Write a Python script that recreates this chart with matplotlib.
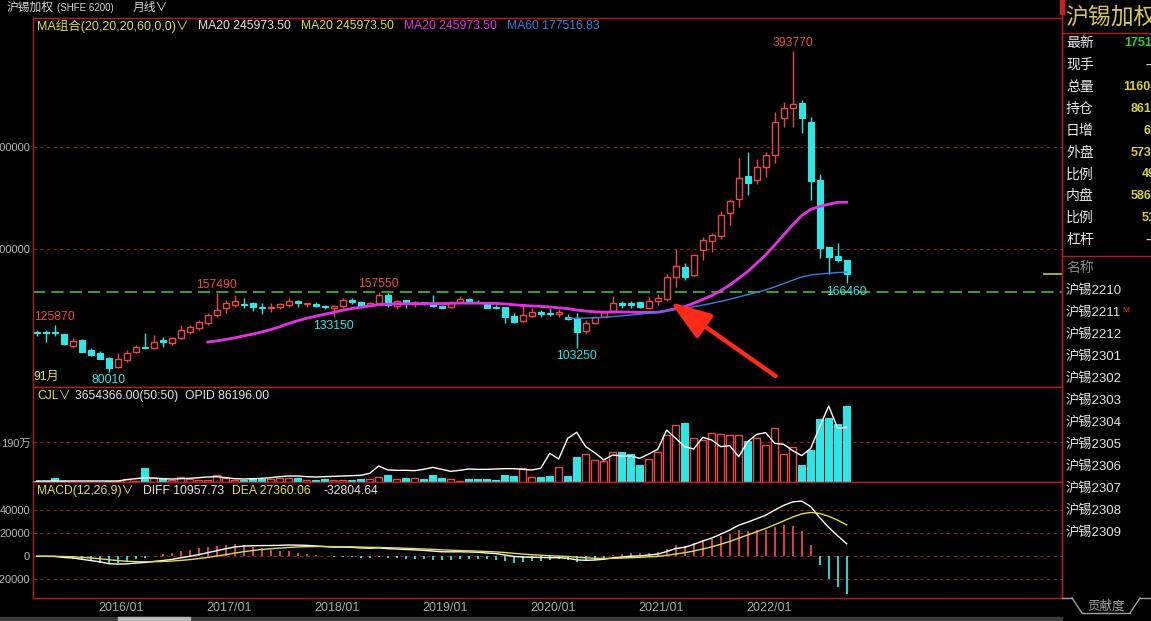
import matplotlib
matplotlib.use('Agg')
import matplotlib.pyplot as plt
import numpy as np
import pandas as pd
from matplotlib.lines import Line2D
from matplotlib.patches import Rectangle

plt.rcParams['font.family'] = ['Liberation Sans', 'Noto Sans CJK SC', 'DejaVu Sans']

# ---------------- data ----------------
months = pd.period_range('2015-03', periods=91, freq='M')
opens = [119200, 118600, 118500, 116900, 105500, 111100, 101300, 98000, 93100, 84300,
         91500, 99300, 104500, 102900, 111100, 107800, 112700, 119200, 122500, 127400,
         135500, 142000, 145300, 146300, 146900, 143700, 142000, 143000, 145300, 149500,
         145900, 146300, 144300, 142000, 144300, 150200, 148600, 145300, 146900, 155100,
         144200, 150000, 146900, 147900, 146000, 144700, 143000, 148600, 151200, 148600,
         146000, 143700, 143000, 134500, 130000, 134900, 138100, 137800, 136200, 133900,
         132300, 120200, 127400, 133900, 139800, 146900, 146900, 147900, 142000, 149500,
         150900, 173000, 182800, 174700, 199100, 208300, 212800, 235000, 248700, 271500,
         267600, 280700, 292100, 327900, 337700, 342600, 324000, 267300, 202100, 193300,
         189000]
highs = [120800, 120800, 125870, 117000, 112700, 112000, 102900, 100600, 94100, 98000,
         101300, 106200, 118200, 115900, 114300, 113700, 125700, 125700, 130600, 137800,
         157490, 150200, 155100, 151800, 148600, 146900, 146900, 146900, 151800, 150200,
         147600, 148600, 145300, 145300, 151800, 151800, 149500, 148600, 157550, 156700,
         150000, 150200, 149500, 148600, 155000, 145300, 149200, 154100, 151800, 150200,
         146900, 145300, 143700, 137200, 145300, 142000, 140400, 142000, 141400, 136500,
         137200, 130600, 134900, 139800, 154100, 149500, 149500, 148600, 153500, 156000,
         175600, 199800, 186100, 195200, 211500, 215400, 237300, 249000, 288800, 294700,
         287800, 295300, 334500, 344200, 393770, 345900, 328900, 273500, 202100, 205600,
         189000]
lows = [115000, 109400, 115000, 106200, 102900, 99000, 95400, 92150, 80010, 83300,
        89900, 98000, 102300, 102300, 103900, 106200, 111700, 116900, 120800, 125700,
        133900, 137800, 143000, 142000, 139800, 136500, 138800, 141100, 143700, 143000,
        143000, 143000, 141100, 133150, 142000, 146300, 142000, 143700, 146300, 143700,
        141100, 142000, 143700, 145300, 143700, 142000, 142000, 146900, 146900, 146900,
        142000, 141400, 128000, 127400, 129000, 133900, 133200, 134500, 133900, 130600,
        103250, 116600, 126400, 133200, 138800, 142000, 142700, 142000, 141100, 145300,
        149500, 162600, 169800, 173700, 189300, 196800, 209600, 223600, 240900, 252900,
        263400, 270900, 283900, 319100, 319800, 313900, 248000, 191000, 175600, 187700,
        166460]
closes = [118300, 117900, 117600, 106800, 110100, 99650, 96700, 92800, 84000, 92800,
          98700, 104500, 102900, 108800, 108800, 112700, 120800, 123500, 128300, 135500,
          140400, 146900, 149200, 145300, 143000, 142700, 143700, 146300, 149500, 146900,
          146900, 144300, 143000, 144300, 150200, 148200, 144700, 147600, 155100, 145300,
          148900, 146900, 147900, 146900, 144300, 142700, 148600, 150900, 148600, 147600,
          142700, 142400, 133900, 128300, 135500, 138800, 136500, 136200, 138100, 131300,
          119200, 127400, 133900, 138800, 146900, 145300, 145300, 143000, 149500, 151800,
          173000, 183800, 173000, 194200, 208900, 213500, 233400, 247100, 269200, 264300,
          280700, 292400, 324700, 337700, 342000, 327900, 267000, 200800, 192600, 189300,
          175300]
volumes = [30000, 30000, 176000, 30000, 20000, 20000, 20000, 20000, 30000, 40000,
           128000, 50000, 657000, 208000, 208000, 80000, 240000, 144000, 80000, 80000,
           353000, 176000, 80000, 112000, 160000, 160000, 144000, 176000, 176000, 176000,
           112000, 96000, 128000, 112000, 112000, 80000, 128000, 128000, 256000, 320000,
           160000, 176000, 176000, 128000, 353000, 176000, 160000, 64000, 160000, 128000,
           128000, 80000, 353000, 270000, 657000, 224000, 240000, 288000, 705000, 288000,
           1202000, 1330000, 1058000, 994000, 1442000, 1442000, 1346000, 817000, 1106000, 1442000,
           2260000, 2740000, 2853000, 2100000, 2020000, 2356000, 2308000, 2260000, 2260000, 1971000,
           2100000, 1779000, 2580000, 1346000, 1699000, 817000, 1538000, 3029000, 3077000, 2788000,
           3654366]
open_interest = [1580, 1580, 1580, 1580, 1580, 1580, 1580, 1580, 1580, 1580,
                 3690, 5270, 6850, 6320, 5270, 4740, 5270, 5790, 6850, 7900,
                 8430, 6850, 5270, 4740, 5270, 5790, 6850, 8430, 9480, 9480,
                 8430, 7900, 8430, 8950, 9480, 10010, 10530, 13690, 25280, 18960,
                 18430, 18430, 17910, 20010, 23170, 20010, 16850, 18430, 20540, 20010,
                 20010, 20540, 21070, 21070, 20010, 18960, 21590, 45290, 36340, 68990,
                 78470, 55830, 46350, 34760, 42660, 41080, 41080, 37390, 44240, 51610,
                 82160, 68990, 55830, 52140, 70570, 66360, 55830, 57410, 40030, 63730,
                 75310, 77950, 61090, 59510, 49510, 41610, 53190, 87430, 120080, 84790,
                 86196]
guide_level = 158000
price_ticks = [200000, 300000]
price_tick_labels = ['200000', '300000']
vol_ticks = [1900000]
vol_tick_labels = ['190万']
macd_ticks = [-20000, 0, 20000, 40000]
macd_tick_labels = ['-20000', '0', '20000', '40000']
marks_high = [(2, '125870'), (20, '157490'), (38, '157550'), (84, '393770')]
marks_low = [(8, '80010'), (33, '133150'), (60, '103250'), (90, '166460')]
side_labels = ['最新', '现手', '总量', '持仓', '日增', '外盘', '比例', '内盘', '比例', '杠杆']
side_values = ['175110', '--', '1160436', '86196', '612', '57318', '49%', '58698', '51%', '--']
contracts = ['沪锡2210', '沪锡2211', '沪锡2212', '沪锡2301', '沪锡2302', '沪锡2303',
             '沪锡2304', '沪锡2305', '沪锡2306', '沪锡2307', '沪锡2308', '沪锡2309']

# ---------------- derived ----------------
o = np.array(opens, float); h = np.array(highs, float)
l = np.array(lows, float); c = np.array(closes, float)
idx = np.arange(len(c))
cs = pd.Series(c)
ma20 = cs.rolling(20).mean()
ma60 = cs.rolling(60).mean()
ema12 = cs.ewm(span=12, adjust=False).mean()
ema26 = cs.ewm(span=26, adjust=False).mean()
diff = ema12 - ema26
dea = diff.ewm(span=9, adjust=False).mean()
hist = 2 * (diff - dea)

# ---------------- style ----------------
W, H = 1151, 621
RED = '#ec4a44'
CYAN = '#2ee6e6'
BORDER = '#b3201c'
GRID = '#8a2020'
GRAY = '#b8b8b8'
YEL = '#dede50'
MAG = '#e62ee6'
BLUE = '#3a7fe0'
FS = 8.7

fig = plt.figure(figsize=(W / 100, H / 100), dpi=100)
fig.patch.set_facecolor('black')


def box(x0, y0, x1, y1):
    return [x0 / W, 1 - y1 / H, (x1 - x0) / W, (y1 - y0) / H]


def T(x, y, s, color, size, **kw):
    kw.setdefault('va', 'center')
    return fig.text(x / W, 1 - y / H, s, color=color, fontsize=size, **kw)


x_left = (33 - 36.7) / 9.0
x_right = (1062 - 36.7) / 9.0

ax = fig.add_axes(box(33, 18, 1062, 387))
axv = fig.add_axes(box(33, 387, 1062, 482))
axm = fig.add_axes(box(33, 482, 1062, 598))
for a in (ax, axv, axm):
    a.set_facecolor('black')
    for s in a.spines.values():
        s.set_color(BORDER)
        s.set_linewidth(1)
    a.set_xlim(x_left, x_right)
    a.tick_params(axis='x', length=0, labelbottom=False)
    a.tick_params(axis='y', length=0, colors=GRAY, labelsize=8, pad=2)
    a.grid(axis='y', color=GRID, linestyle=(0, (3, 3)), linewidth=0.8)
    a.set_axisbelow(True)

# ---- main price panel ----
ax.set_ylim(65078, 426108)
ax.set_yticks(price_ticks)
ax.set_yticklabels(price_tick_labels)
up = c >= o
wick_colors = [RED if u else CYAN for u in up]
ax.vlines(idx, l, h, colors=wick_colors, linewidth=1, zorder=2)
ax.bar(idx[up], np.maximum(c[up] - o[up], 300), bottom=o[up], width=0.68,
       facecolor='black', edgecolor=RED, linewidth=1, zorder=3)
ax.bar(idx[~up], np.maximum(o[~up] - c[~up], 300), bottom=c[~up], width=0.68,
       facecolor=CYAN, edgecolor=CYAN, linewidth=0.8, zorder=3)
ax.axhline(guide_level, color='#3cd23c', linestyle=(0, (8, 4)), linewidth=1.1, zorder=1)
ax.plot(idx, ma20, color='white', linewidth=1, zorder=4)
ax.plot(idx, ma20, color=YEL, linewidth=1, zorder=4)
ax.plot(idx, ma20, color=MAG, linewidth=2, zorder=5)
ax.plot(idx, ma60, color=BLUE, linewidth=1, zorder=5)
ax.plot([x_right - 2.0, x_right], [c[-1], c[-1]], color='#c8c832', linewidth=1.2, zorder=5,
        clip_on=False)
for i, s in marks_high:
    ax.annotate(s, xy=(i, h[i]), xytext=(0, 8), textcoords='offset pixels', ha='center',
                va='center', color=RED, fontsize=8.8, zorder=6)
for i, s in marks_low:
    ax.annotate(s, xy=(i, l[i]), xytext=(0, -8.5), textcoords='offset pixels', ha='center',
                va='center', color=CYAN, fontsize=8.8, zorder=6)
ax.annotate('', xy=(70.4, 148200), xytext=(82.1, 75800),
            arrowprops=dict(arrowstyle='-|>,head_length=1.0,head_width=0.35',
                            color='#ff2a18', lw=3.2, mutation_scale=25, shrinkA=0, shrinkB=0),
            zorder=7)

# ---- volume panel ----
axv.set_ylim(0, 4.567e6)
axv.set_yticks(vol_ticks)
axv.set_yticklabels(vol_tick_labels)
axv.bar(idx[up], np.array(volumes)[up], width=0.72, facecolor='black', edgecolor=RED,
        linewidth=1, zorder=3)
axv.bar(idx[~up], np.array(volumes)[~up], width=0.72, facecolor=CYAN, edgecolor=CYAN,
        linewidth=0.8, zorder=3)
axo = axv.twinx()
axo.set_ylim(0, 150100)
axo.set_xlim(x_left, x_right)
axo.plot(idx, open_interest, color='white', linewidth=1, zorder=4)
axo.axis('off')

# ---- MACD panel ----
axm.set_ylim(-36261, 64609)
axm.set_yticks(macd_ticks)
axm.set_yticklabels(macd_tick_labels)
hist_colors = [RED if v >= 0 else CYAN for v in hist]
axm.vlines(idx, 0, hist, colors=hist_colors, linewidth=1.3, zorder=3)
axm.plot(idx, diff, color='white', linewidth=1, zorder=4)
axm.plot(idx, dea, color=YEL, linewidth=1, zorder=4)
jan = [i for i, m in enumerate(months) if m.month == 1]
axm.set_xticks([i - 0.6 for i in jan])
axm.set_xticklabels([f'{months[i].year}/01' for i in jan])
axm.tick_params(axis='x', labelbottom=True, labelsize=9, colors='#a8a8a8', pad=3)

# ---- header texts ----
T(7, 8, '沪锡加权', '#d8d8d8', 8.5)
T(57, 8, '(SHFE 6200)', '#d8d8d8', 7)
T(133, 8, '月线∨', '#d8d8d8', 8.5)
T(37, 26, 'MA组合(20,20,20,60,0,0)∨', YEL, 9)
T(198, 26, 'MA20 245973.50', '#e6e6e6', FS)
T(301, 26, 'MA20 245973.50', YEL, FS)
T(404, 26, 'MA20 245973.50', MAG, FS)
T(507, 26, 'MA60 177516.83', BLUE, FS)
T(33, 377, '91月', YEL, FS)
T(37, 396, 'CJL∨', YEL, FS)
T(75, 396, '3654366.00(50:50)  OPID 86196.00', '#e6e6e6', FS)
T(37, 491, 'MACD(12,26,9)∨', YEL, FS)
T(143, 491, 'DIFF 10957.73', '#e6e6e6', FS)
T(232, 491, 'DEA 27360.06', YEL, FS)
T(323, 491, '-32804.64', '#e6e6e6', FS)

# ---- right info panel ----
def fline(x0, y0, x1, y1, color=BORDER, lw=1):
    fig.add_artist(Line2D([x0 / W, x1 / W], [1 - y0 / H, 1 - y1 / H], color=color, linewidth=lw))

fline(1062, 0, 1062, 598)
fline(1062, 33, 1151, 33)
fline(1062, 256, 1151, 256)
fig.add_artist(Rectangle((1060 / W, 1 - 14 / H), 4 / W, 14 / H, color='#d02020',
                         transform=fig.transFigure))
T(1065, 17, '沪锡加权', '#d8c65a', 16.5)
val_x = [1124, 1146, 1123, 1131, 1143, 1131, 1142, 1131, 1142, 1146]
for k, (lab, val) in enumerate(zip(side_labels, side_values)):
    y = 43 + 21.9 * k
    T(1066, y, lab, '#e8e8e8', 10)
    col = '#30d030' if k == 0 else ('#d0d0d0' if val == '--' else '#d8d040')
    T(val_x[k], y, val, col, 9, fontweight='bold')
T(1066, 268, '名称', '#8a8a8a', 10)
for k, name in enumerate(contracts):
    T(1066, 291 + 22 * k, name, '#e4e4e4', 9.5)
T(1122, 310, 'M', '#e03030', 6)
fline(1062, 598, 1072, 598, '#a0a0a0')
fline(1072, 598, 1082, 613, '#a0a0a0')
fline(1082, 613, 1130, 613, '#a0a0a0')
fline(1130, 613, 1140, 598, '#a0a0a0')
fline(1140, 598, 1151, 598, '#a0a0a0')
T(1106, 606, '贡献度', '#a8a8a8', 9, ha='center')
fig.add_artist(Rectangle((0, 0), 1062 / W, 4 / H, color='#3a3a3a', transform=fig.transFigure))
fig.add_artist(Rectangle((118 / W, 0), 72 / W, 4 / H, color='#b8b8b8', transform=fig.transFigure))

fig.savefig('out.png', dpi=100, facecolor='black')
